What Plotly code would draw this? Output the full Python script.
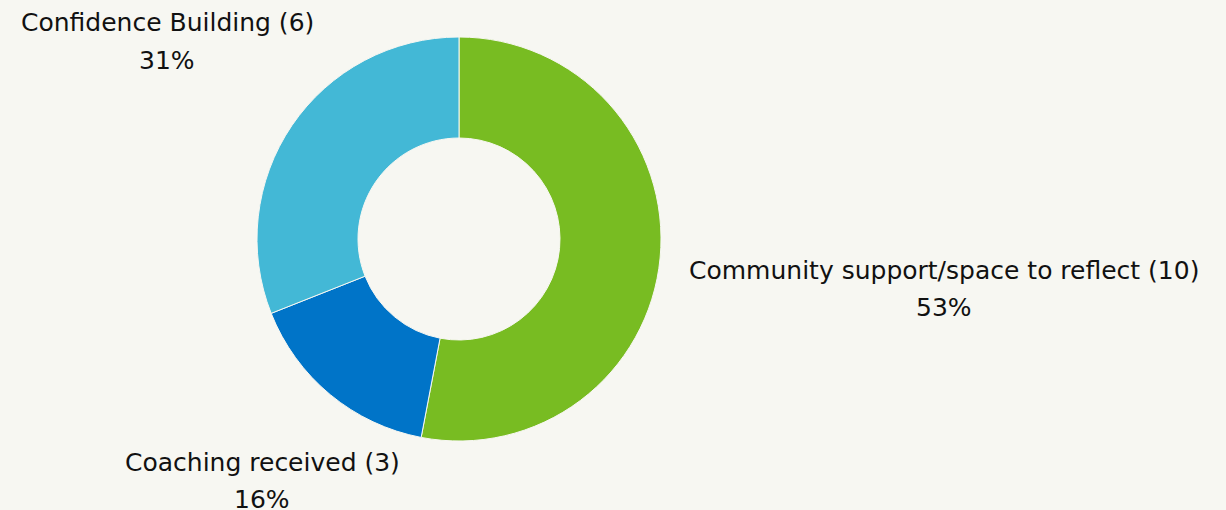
import plotly.graph_objects as go

categories = ["Community support/space to reflect", "Coaching received", "Confidence Building"]
counts = [10, 3, 6]
percents = [53, 16, 31]
colors = ["#78BC22", "#0074C8", "#43B8D6"]

W, H = 1226, 510
cx, cy, R = 459, 239, 202

fig = go.Figure(go.Pie(
    labels=categories,
    values=percents,
    sort=False,
    direction="clockwise",
    rotation=0,
    hole=0.5,
    textinfo="none",
    marker=dict(colors=colors, line=dict(color="#F7F7F2", width=1)),
    domain=dict(x=[(cx - R) / W, (cx + R) / W], y=[1 - (cy + R) / H, 1 - (cy - R) / H]),
    showlegend=False,
))

# label anchor positions (pixels: center x, first-line center y)
label_pos = [(944, 270), (262, 462), (167, 23)]
font = dict(family="DejaVu Sans", size=25, color="#111111")
for cat, n, p, (lx, ly) in zip(categories, counts, percents, label_pos):
    fig.add_annotation(x=lx / W, y=1 - ly / H, xref="paper", yref="paper",
                       text=f"{cat} ({n})", showarrow=False, font=font,
                       xanchor="center", yanchor="middle")
    fig.add_annotation(x=lx / W, y=1 - (ly + 37) / H, xref="paper", yref="paper",
                       text=f"{p}%", showarrow=False, font=font,
                       xanchor="center", yanchor="middle")

fig.update_layout(
    width=W, height=H,
    margin=dict(l=0, r=0, t=0, b=0),
    paper_bgcolor="#F7F7F2",
    plot_bgcolor="#F7F7F2",
)
fig.write_html("out.html")
